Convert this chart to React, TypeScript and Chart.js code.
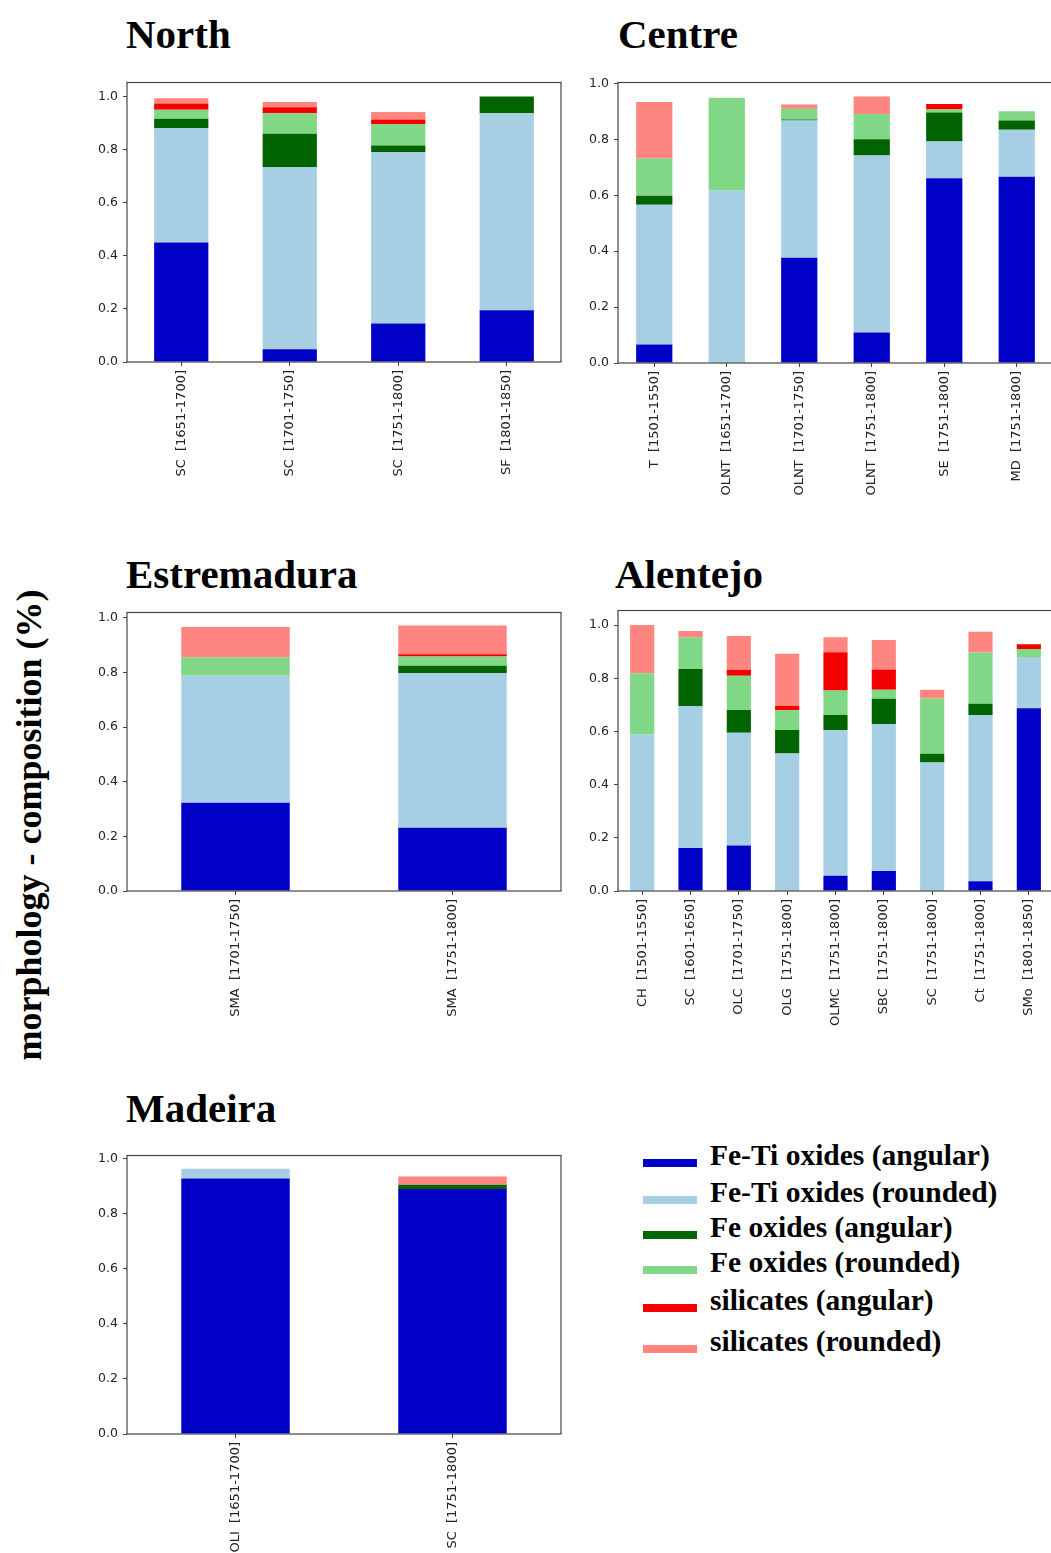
import React, { useEffect, useRef } from "react";
import { Chart, registerables } from "chart.js";

Chart.register(...registerables);

// ---------- data ----------
const seriesNames = [
  "Fe-Ti oxides (angular)",
  "Fe-Ti oxides (rounded)",
  "Fe oxides (angular)",
  "Fe oxides (rounded)",
  "silicates (angular)",
  "silicates (rounded)",
];
const seriesColors = ["#0000C6", "#A6CFE3", "#006400", "#80D785", "#F50000", "#FF8680"];

const northCats = ["SC  [1651-1700]", "SC  [1701-1750]", "SC  [1751-1800]", "SF  [1801-1850]"];
const northFeTiAng = [0.45, 0.048, 0.145, 0.195];
const northFeTiRnd = [0.431, 0.687, 0.646, 0.742];
const northFeAng = [0.035, 0.125, 0.025, 0.063];
const northFeRnd = [0.034, 0.077, 0.081, 0];
const northSilAng = [0.024, 0.023, 0.017, 0];
const northSilRnd = [0.02, 0.02, 0.028, 0];

const centreCats = ["T  [1501-1550]", "OLNT  [1651-1700]", "OLNT  [1701-1750]", "OLNT  [1751-1800]", "SE  [1751-1800]", "MD  [1751-1800]"];
const centreFeTiAng = [0.066, 0, 0.377, 0.109, 0.661, 0.667];
const centreFeTiRnd = [0.5, 0.617, 0.491, 0.634, 0.132, 0.168];
const centreFeAng = [0.033, 0, 0.004, 0.058, 0.104, 0.033];
const centreFeRnd = [0.133, 0.332, 0.038, 0.09, 0.01, 0.033];
const centreSilAng = [0, 0, 0, 0, 0.02, 0];
const centreSilRnd = [0.202, 0, 0.015, 0.063, 0, 0];

const estreCats = ["SMA  [1701-1750]", "SMA  [1751-1800]"];
const estreFeTiAng = [0.323, 0.232];
const estreFeTiRnd = [0.465, 0.566];
const estreFeAng = [0, 0.027];
const estreFeRnd = [0.067, 0.034];
const estreSilAng = [0, 0.008];
const estreSilRnd = [0.112, 0.105];

const alentejoCats = ["CH  [1501-1550]", "SC  [1601-1650]", "OLC  [1701-1750]", "OLG  [1751-1800]", "OLMC  [1751-1800]", "SBC  [1751-1800]", "SC  [1751-1800]", "Ct  [1751-1800]", "SMo  [1801-1850]"];
const alentejoFeTiAng = [0, 0.162, 0.171, 0, 0.057, 0.075, 0, 0.037, 0.687];
const alentejoFeTiRnd = [0.589, 0.534, 0.424, 0.517, 0.549, 0.552, 0.483, 0.625, 0.193];
const alentejoFeAng = [0, 0.139, 0.086, 0.089, 0.056, 0.096, 0.033, 0.042, 0];
const alentejoFeRnd = [0.23, 0.119, 0.129, 0.074, 0.092, 0.034, 0.208, 0.193, 0.03];
const alentejoSilAng = [0, 0, 0.022, 0.017, 0.144, 0.076, 0, 0, 0.018];
const alentejoSilRnd = [0.181, 0.024, 0.127, 0.195, 0.056, 0.111, 0.033, 0.078, 0];

const madeiraCats = ["OLI  [1651-1700]", "SC  [1751-1800]"];
const madeiraFeTiAng = [0.928, 0.89];
const madeiraFeTiRnd = [0.036, 0];
const madeiraFeAng = [0, 0.016];
const madeiraFeRnd = [0, 0];
const madeiraSilAng = [0, 0];
const madeiraSilRnd = [0, 0.03];

const yTickStep = 0.2;

// ---------- layout ----------
const YW = 45; // y-axis width
const XH = 140; // x-axis height
const PT = 10;
const PR = 10;

type Box = { x1: number; y1: number; x2: number; y2: number };

const framePlugin = {
  id: "frame",
  afterDraw(chart: any) {
    const { ctx, chartArea } = chart;
    const { left, top, right, bottom } = chartArea;
    ctx.save();
    ctx.strokeStyle = "#444";
    ctx.lineWidth = 1.2;
    ctx.strokeRect(left, top, right - left, bottom - top);
    ctx.restore();
  },
};

function Panel(props: { cats: string[]; series: number[][]; yMax: number; box: Box }) {
  const ref = useRef<HTMLCanvasElement | null>(null);
  const { cats, series, yMax, box } = props;
  const w = box.x2 - box.x1 + YW + PR;
  const h = box.y2 - box.y1 + PT + XH;
  useEffect(() => {
    if (!ref.current) return;
    const gridOpts = {
      display: true,
      drawOnChartArea: false,
      drawTicks: true,
      tickLength: 4,
      color: "#444",
      lineWidth: 1,
    };
    const chart = new Chart(ref.current, {
      type: "bar",
      data: {
        labels: cats,
        datasets: series.map((vals, i) => ({
          label: seriesNames[i],
          data: vals,
          backgroundColor: seriesColors[i],
          borderWidth: 0,
          categoryPercentage: 1,
          barPercentage: 0.5,
        })),
      },
      options: {
        responsive: false,
        animation: false,
        devicePixelRatio: 1,
        layout: { padding: { top: PT, right: PR, left: 0, bottom: 0 } },
        plugins: { legend: { display: false }, tooltip: { enabled: false } },
        scales: {
          x: {
            stacked: true,
            offset: true,
            grid: { ...gridOpts, offset: false },
            border: { display: false },
            ticks: {
              autoSkip: false,
              maxRotation: 90,
              minRotation: 90,
              padding: 4,
              font: { family: "'DejaVu Sans', sans-serif", size: 13 },
              color: "#222",
            },
            afterFit: (s: any) => {
              s.height = XH;
            },
          },
          y: {
            stacked: true,
            min: 0,
            max: yMax,
            grid: gridOpts,
            border: { display: false },
            ticks: {
              stepSize: yTickStep,
              includeBounds: false,
              padding: 5,
              font: { family: "'DejaVu Sans', sans-serif", size: 12.5 },
              color: "#222",
              callback: (v: any) => Number(v).toFixed(1),
            },
            afterFit: (s: any) => {
              s.width = YW;
            },
          },
        },
      },
      plugins: [framePlugin],
    } as any);
    return () => chart.destroy();
  }, []);
  return (
    <canvas
      ref={ref}
      width={w}
      height={h}
      style={{ position: "absolute", left: box.x1 - YW, top: box.y1 - PT, width: w, height: h }}
    />
  );
}

const titleStyle = (left: number, baseline: number): React.CSSProperties => ({
  position: "absolute",
  left,
  top: baseline - 34,
  fontFamily: "'Liberation Serif', 'Times New Roman', serif",
  fontWeight: "bold",
  fontSize: 41,
  lineHeight: 1,
  color: "#000",
  whiteSpace: "nowrap",
});

const legendMarkerY = [1163, 1200, 1235, 1270, 1308, 1349];

export default function App() {
  return (
    <div
      style={{
        position: "absolute",
        left: 0,
        top: 0,
        width: 1051,
        height: 1553,
        overflow: "hidden",
        background: "#fff",
      }}
    >
      <div style={titleStyle(126, 48)}>North</div>
      <div style={titleStyle(618, 48)}>Centre</div>
      <div style={titleStyle(126, 588)}>Estremadura</div>
      <div style={titleStyle(615, 588)}>Alentejo</div>
      <div style={titleStyle(126, 1122)}>Madeira</div>

      <Panel
        cats={northCats}
        series={[northFeTiAng, northFeTiRnd, northFeAng, northFeRnd, northSilAng, northSilRnd]}
        yMax={1.053}
        box={{ x1: 127, y1: 80, x2: 561, y2: 362 }}
      />
      <Panel
        cats={centreCats}
        series={[centreFeTiAng, centreFeTiRnd, centreFeAng, centreFeRnd, centreSilAng, centreSilRnd]}
        yMax={1.004}
        box={{ x1: 618, y1: 80, x2: 1053, y2: 363 }}
      />
      <Panel
        cats={estreCats}
        series={[estreFeTiAng, estreFeTiRnd, estreFeAng, estreFeRnd, estreSilAng, estreSilRnd]}
        yMax={1.02}
        box={{ x1: 127, y1: 610, x2: 561, y2: 891 }}
      />
      <Panel
        cats={alentejoCats}
        series={[alentejoFeTiAng, alentejoFeTiRnd, alentejoFeAng, alentejoFeRnd, alentejoSilAng, alentejoSilRnd]}
        yMax={1.055}
        box={{ x1: 618, y1: 608, x2: 1053, y2: 891 }}
      />
      <Panel
        cats={madeiraCats}
        series={[madeiraFeTiAng, madeiraFeTiRnd, madeiraFeAng, madeiraFeRnd, madeiraSilAng, madeiraSilRnd]}
        yMax={1.012}
        box={{ x1: 127, y1: 1153, x2: 561, y2: 1434 }}
      />

      <div
        style={{
          position: "absolute",
          left: 29,
          top: 825,
          transform: "translate(-50%, -50%) rotate(-90deg)",
          fontFamily: "'Liberation Serif', 'Times New Roman', serif",
          fontWeight: "bold",
          fontSize: 36,
          lineHeight: 1,
          whiteSpace: "nowrap",
          color: "#000",
        }}
      >
        morphology - composition (%)
      </div>

      {seriesNames.map((name, i) => (
        <React.Fragment key={name}>
          <div
            style={{
              position: "absolute",
              left: 643,
              top: legendMarkerY[i] - 4,
              width: 54,
              height: 8,
              background: seriesColors[i],
            }}
          />
          <div
            style={{
              position: "absolute",
              left: 710,
              top: legendMarkerY[i] + 3 - 25,
              fontFamily: "'Liberation Serif', 'Times New Roman', serif",
              fontWeight: "bold",
              fontSize: 29.5,
              lineHeight: 1,
              whiteSpace: "nowrap",
              color: "#000",
            }}
          >
            {name}
          </div>
        </React.Fragment>
      ))}
    </div>
  );
}
